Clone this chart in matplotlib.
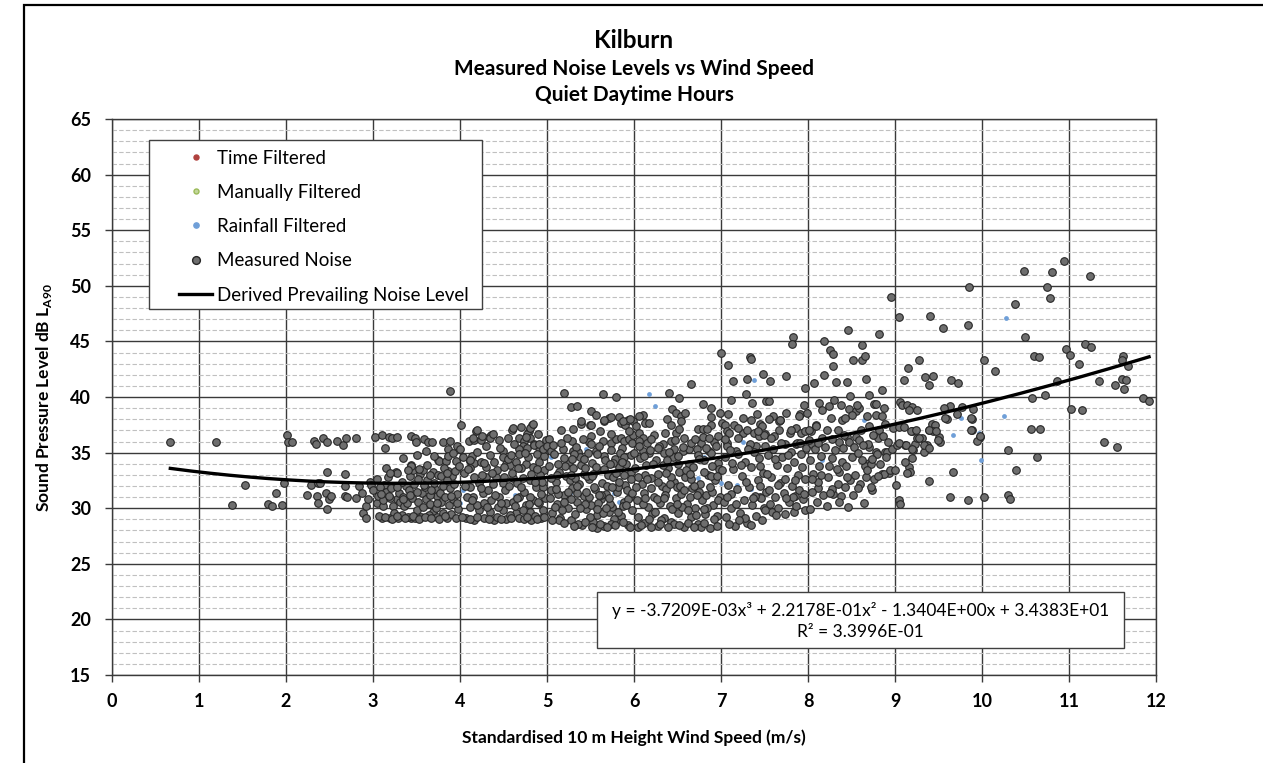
import matplotlib
matplotlib.use('Agg')
import numpy as np
import matplotlib.pyplot as plt
from matplotlib.lines import Line2D
from matplotlib.patches import Rectangle
from matplotlib.ticker import MultipleLocator

plt.rcParams['font.family'] = ['Lato', 'DejaVu Sans']
plt.rcParams['mathtext.fontset'] = 'custom'
plt.rcParams['mathtext.rm'] = 'Lato'
plt.rcParams['mathtext.bf'] = 'Lato:bold'

# Trendline coefficients as printed on the chart (x^3, x^2, x, const)
trend_coeffs = [-3.7209e-03, 2.2178e-01, -1.3404e+00, 3.4383e+01]
r_squared = '3.3996E-01'

# Measured noise, (wind speed m/s, LA90 dB), split by wind speed band
measured_0_3 = [
    (0.67, 36.0), (1.19, 36.0), (1.38, 30.3), (1.53, 32.1), (1.79, 30.4), (1.84, 30.2), (1.88, 31.4),
    (1.95, 30.3), (1.98, 32.3), (2.01, 36.6), (2.02, 36.0), (2.07, 36.0), (2.24, 31.2), (2.29, 32.1),
    (2.32, 36.05), (2.35, 35.8), (2.36, 31.1), (2.37, 32.3), (2.37, 30.5), (2.39, 32.3), (2.42, 36.3),
    (2.46, 31.4), (2.47, 36.0), (2.47, 33.3), (2.47, 29.9), (2.49, 30.8), (2.52, 31.1), (2.59, 36.05),
    (2.66, 35.7), (2.68, 33.05), (2.68, 32.0), (2.68, 31.1), (2.69, 36.3), (2.70, 31.0), (2.81, 36.3),
    (2.81, 30.9), (2.84, 32.0), (2.87, 31.4), (2.89, 29.6), (2.92, 29.1), (2.92, 30.2), (2.94, 30.8),
    (2.96, 32.4), (2.98, 32.1)]

measured_3_4 = [
    (3.0, 31.6), (3.02, 36.4), (3.04, 30.5), (3.06, 31.1), (3.10, 36.6), (3.11, 30.2), (3.10, 29.1),
    (3.14, 35.4), (3.13, 32.1), (3.18, 36.4), (3.22, 36.3), (3.27, 36.4), (3.19, 29.1), (3.29, 29.1),
    (3.25, 32.0), (3.26, 33.3), (3.23, 30.2), (3.27, 30.8), (3.31, 30.6), (3.36, 30.2), (3.38, 32.0),
    (3.42, 32.9), (3.44, 33.9), (3.46, 33.4), (3.44, 36.5), (3.48, 36.3), (3.49, 36.0), (3.44, 29.1),
    (3.48, 29.1), (3.54, 33.1), (3.56, 31.4), (3.57, 33.4), (3.59, 36.2), (3.61, 30.8), (3.63, 36.0),
    (3.61, 35.15), (3.68, 36.0), (3.69, 33.3), (3.69, 29.7), (3.71, 31.7), (3.73, 31.1), (3.75, 34.3),
    (3.75, 33.0), (3.76, 34.25), (3.78, 32.9), (3.80, 36.0), (3.84, 34.25), (3.86, 33.35), (3.86, 35.3),
    (3.86, 34.7), (3.89, 36.05), (3.89, 40.5), (3.91, 32.9), (3.94, 33.35), (3.95, 34.25), (3.97, 35.6),
    (3.27, 33.2), (3.44, 33.8), (3.53, 33.5), (3.05, 32.6), (3.08, 31.9), (3.12, 30.7), (3.15, 31.5),
    (3.17, 32.8), (3.20, 30.9), (3.21, 31.8), (3.24, 29.6), (3.30, 31.4), (3.33, 29.4), (3.33, 32.4),
    (3.35, 31.0), (3.39, 30.5), (3.40, 29.2), (3.41, 31.6), (3.45, 30.9), (3.47, 32.2), (3.50, 29.8),
    (3.52, 30.6), (3.52, 32.6), (3.55, 29.2), (3.58, 30.1), (3.60, 31.9), (3.62, 32.5), (3.64, 29.4),
    (3.65, 31.2), (3.66, 30.4), (3.70, 32.3), (3.72, 30.0), (3.74, 29.2), (3.77, 31.4), (3.78, 30.6),
    (3.80, 29.6), (3.81, 32.0), (3.83, 31.0), (3.85, 29.1), (3.87, 30.3), (3.88, 31.8), (3.90, 29.5),
    (3.92, 30.8), (3.93, 32.2), (3.96, 31.3), (3.98, 29.9), (3.99, 33.8), (3.62, 33.9), (3.35, 34.5),
    (3.15, 33.6), (3.70, 34.7), (3.82, 33.6), (3.50, 34.8), (3.92, 35.0), (3.07, 29.3), (3.14, 29.2),
    (3.22, 29.0), (3.28, 29.3), (3.37, 29.1), (3.46, 29.3), (3.53, 29.0), (3.60, 29.2), (3.67, 29.1),
    (3.76, 29.0), (3.83, 29.3), (3.95, 29.1), (3.09, 31.3), (3.18, 31.1), (3.28, 31.9), (3.34, 30.8),
    (3.43, 31.2), (3.51, 31.5), (3.59, 32.1), (3.67, 31.6), (3.74, 30.5), (3.85, 32.5), (3.90, 31.1),
    (3.97, 30.5), (3.20, 33.2), (3.40, 33.4), (3.66, 33.0), (3.85, 33.2)]

measured_4_5 = [
    (4.0, 35.3), (4.01, 37.5), (4.10, 36.05), (4.16, 36.1), (4.18, 36.95), (4.14, 34.7), (4.12, 34.25),
    (4.16, 34.1), (4.15, 36.35), (4.24, 36.1), (4.33, 36.4), (4.36, 36.6), (4.34, 36.3), (4.60, 37.0),
    (4.83, 37.5), (4.79, 36.95), (4.77, 36.7), (4.68, 36.3), (4.74, 36.05), (4.80, 36.3), (4.72, 35.6),
    (4.77, 35.45), (4.68, 35.3), (4.85, 35.75), (4.91, 35.4), (4.99, 35.15), (4.49, 35.15), (4.20, 37.0),
    (4.38, 36.7), (4.61, 37.2), (4.76, 36.4), (4.80, 37.2), (4.84, 37.6), (4.85, 35.7), (4.91, 35.8),
    (4.99, 36.1), (4.03, 34.6), (4.11, 34.3), (4.24, 34.2), (4.30, 33.75), (4.39, 34.2), (4.49, 34.6),
    (4.53, 34.0), (4.57, 33.9), (4.64, 34.2), (4.68, 34.9), (4.76, 34.0), (4.84, 33.75), (4.91, 34.2),
    (4.97, 33.45), (4.16, 32.85), (4.30, 32.85), (4.41, 32.85), (4.22, 32.25), (4.11, 31.95), (4.49, 32.25),
    (4.61, 32.7), (4.72, 32.7), (4.80, 32.55), (4.87, 31.95), (4.95, 31.95), (4.15, 31.05), (4.26, 31.35),
    (4.36, 30.75), (4.45, 31.05), (4.53, 30.45), (4.61, 30.6), (4.68, 31.05), (4.76, 30.3), (4.84, 30.75),
    (4.91, 30.45), (4.11, 30.15), (4.22, 29.85), (4.34, 29.7), (4.49, 29.85), (4.64, 29.55), (4.80, 29.7),
    (4.95, 29.85), (4.07, 29.1), (4.16, 28.95), (4.28, 29.1), (4.39, 28.95), (4.53, 29.0), (4.68, 29.1),
    (4.82, 28.95), (4.93, 29.1), (4.05, 33.2), (4.08, 31.0), (4.12, 33.6), (4.19, 30.3), (4.20, 35.1),
    (4.25, 33.0), (4.28, 30.5), (4.30, 35.6), (4.32, 31.6), (4.35, 34.8), (4.40, 31.2), (4.42, 33.4),
    (4.44, 30.1), (4.46, 35.4), (4.50, 32.8), (4.52, 31.6), (4.55, 34.4), (4.57, 29.4), (4.60, 33.2),
    (4.62, 35.8), (4.65, 30.9), (4.66, 32.3), (4.70, 33.6), (4.72, 29.8), (4.74, 31.5), (4.78, 34.6),
    (4.80, 31.0), (4.82, 33.1), (4.86, 29.3), (4.88, 34.9), (4.90, 30.6), (4.92, 33.0), (4.94, 32.4),
    (4.96, 34.7), (4.98, 30.9), (4.45, 36.1), (4.55, 36.3), (4.25, 36.5), (4.90, 36.7), (4.70, 37.3),
    (4.02, 29.2), (4.12, 29.0), (4.20, 29.2), (4.33, 29.0), (4.43, 29.2), (4.47, 29.0), (4.59, 29.1),
    (4.73, 29.0), (4.77, 29.2), (4.88, 29.0), (4.97, 29.2), (4.06, 32.0), (4.14, 30.7), (4.24, 31.8),
    (4.31, 30.1), (4.38, 32.2), (4.47, 30.5), (4.56, 32.0), (4.63, 30.2), (4.70, 31.9), (4.79, 30.4),
    (4.86, 32.4), (4.93, 31.3), (4.09, 33.5), (4.27, 34.1), (4.37, 33.2), (4.51, 33.7), (4.59, 34.8),
    (4.67, 33.6), (4.75, 35.0), (4.89, 33.5), (4.95, 35.3)]

measured_5_6 = [
    (5.20, 40.4), (5.64, 40.3), (5.79, 40.0), (5.28, 39.1), (5.35, 39.2), (5.50, 38.7), (5.56, 38.35),
    (5.66, 37.8), (5.71, 38.1), (5.83, 38.2), (5.85, 37.7), (5.90, 37.5), (5.93, 37.9), (5.99, 37.8),
    (5.39, 37.6), (5.49, 37.45), (5.16, 37.0), (5.30, 37.15), (5.39, 37.8), (5.50, 37.5), (5.66, 37.9),
    (5.74, 38.2), (5.87, 37.8), (5.95, 38.0), (5.29, 36.05), (5.30, 35.15), (5.36, 35.1), (5.50, 36.5),
    (5.48, 36.0), (5.56, 35.15), (5.64, 36.05), (5.73, 35.9), (5.79, 36.2), (5.85, 36.3), (5.89, 36.05),
    (5.94, 36.2), (5.98, 35.9), (5.02, 36.2), (5.00, 35.6), (5.04, 35.15),
    (5.02, 33.8), (5.04, 31.6), (5.06, 29.6), (5.08, 34.9), (5.10, 32.4), (5.12, 30.4), (5.14, 33.3),
    (5.15, 29.1), (5.18, 35.3), (5.20, 31.2), (5.22, 32.9), (5.24, 30.0), (5.25, 34.2), (5.27, 28.9),
    (5.29, 31.8), (5.30, 33.6), (5.32, 29.5), (5.33, 35.5), (5.35, 30.6), (5.37, 32.2), (5.38, 34.6),
    (5.40, 28.5), (5.42, 31.1), (5.43, 33.1), (5.45, 29.9), (5.47, 35.0), (5.48, 32.6), (5.50, 30.3),
    (5.52, 34.1), (5.53, 28.8), (5.55, 31.7), (5.57, 33.4), (5.58, 29.4), (5.60, 35.6), (5.62, 30.8),
    (5.63, 32.3), (5.65, 34.7), (5.66, 28.4), (5.68, 31.3), (5.70, 33.0), (5.71, 29.7), (5.73, 35.2),
    (5.75, 30.1), (5.76, 32.8), (5.78, 34.4), (5.80, 28.9), (5.81, 31.5), (5.83, 33.7), (5.85, 29.3),
    (5.86, 35.4), (5.88, 30.6), (5.90, 32.1), (5.91, 34.0), (5.93, 28.5), (5.95, 31.0), (5.96, 33.3),
    (5.98, 29.8), (5.99, 36.6), (5.03, 30.9), (5.07, 35.7), (5.11, 33.0), (5.13, 31.3), (5.17, 29.8),
    (5.19, 34.5), (5.23, 36.3), (5.26, 32.5), (5.28, 30.8), (5.31, 34.9), (5.34, 31.4), (5.36, 28.6),
    (5.39, 33.9), (5.41, 36.2), (5.44, 30.4), (5.46, 32.9), (5.49, 29.2), (5.51, 35.8), (5.54, 31.9),
    (5.56, 33.7), (5.59, 30.5), (5.61, 36.9), (5.64, 29.6), (5.67, 34.3), (5.69, 32.0), (5.72, 30.4),
    (5.74, 36.7), (5.77, 29.0), (5.79, 33.2), (5.82, 31.9), (5.84, 35.0), (5.87, 30.2), (5.89, 34.6),
    (5.92, 31.6), (5.94, 36.9), (5.97, 32.6), (5.05, 32.7), (5.09, 30.1), (5.16, 35.9), (5.21, 33.8),
    (5.24, 31.5), (5.32, 32.7), (5.38, 30.0), (5.42, 34.4), (5.48, 31.0), (5.53, 33.1), (5.57, 29.9),
    (5.62, 31.2), (5.66, 33.5), (5.71, 30.9), (5.76, 34.1), (5.82, 29.7), (5.88, 33.0), (5.93, 30.8),
    (5.97, 34.8), (5.14, 28.9), (5.58, 28.2), (5.73, 28.6), (5.06, 28.9), (5.19, 28.7), (5.31, 28.4),
    (5.44, 28.8), (5.52, 28.3), (5.61, 28.6), (5.69, 28.3), (5.78, 28.5), (5.87, 28.8), (5.95, 28.3),
    (5.10, 31.7), (5.20, 30.6), (5.27, 33.0), (5.35, 32.0), (5.45, 31.5), (5.52, 32.9), (5.60, 31.2),
    (5.68, 30.0), (5.75, 31.9), (5.83, 32.4), (5.91, 30.3), (5.98, 31.4), (5.13, 34.0), (5.29, 34.4),
    (5.44, 33.6), (5.58, 34.9), (5.72, 34.0), (5.86, 34.2)]

measured_6_7 = [
    (6.02, 37.4), (6.06, 36.8), (6.10, 36.35), (6.15, 35.9), (6.10, 38.4), (6.06, 38.3), (6.13, 37.7),
    (6.17, 37.7), (6.40, 40.4), (6.52, 39.9), (6.66, 41.2), (6.79, 39.4), (6.89, 39.0), (6.99, 38.6),
    (6.89, 38.2), (6.44, 38.9), (6.48, 38.6), (6.54, 38.3), (6.59, 38.6), (6.38, 38.0), (6.42, 37.5),
    (6.54, 37.8), (6.88, 37.5), (6.73, 37.1), (6.79, 37.1), (6.84, 37.1), (6.23, 36.6), (6.36, 36.8),
    (6.48, 36.8), (6.52, 37.1), (6.77, 35.9), (6.92, 36.0), (6.06, 36.05), (6.10, 35.15), (6.17, 35.0),
    (6.33, 35.75), (6.42, 36.05), (6.46, 35.3), (6.56, 35.15), (6.63, 35.3), (6.86, 35.15),
    (6.01, 33.6), (6.03, 30.7), (6.05, 29.2), (6.07, 34.5), (6.09, 32.2), (6.11, 28.7), (6.12, 31.4),
    (6.14, 33.9), (6.16, 30.1), (6.18, 35.2), (6.20, 32.7), (6.21, 29.5), (6.23, 31.0), (6.25, 34.3),
    (6.27, 28.4), (6.28, 33.1), (6.30, 30.5), (6.32, 32.0), (6.34, 35.0), (6.35, 29.1), (6.37, 31.7),
    (6.39, 33.6), (6.41, 30.2), (6.43, 28.8), (6.45, 34.6), (6.46, 32.4), (6.48, 30.9), (6.50, 29.6),
    (6.52, 33.3), (6.54, 31.3), (6.56, 35.5), (6.57, 28.3), (6.59, 32.8), (6.61, 30.4), (6.63, 34.0),
    (6.65, 29.2), (6.67, 31.8), (6.68, 33.7), (6.70, 30.0), (6.72, 35.3), (6.74, 28.6), (6.76, 32.2),
    (6.78, 30.7), (6.80, 34.3), (6.82, 29.5), (6.83, 31.2), (6.85, 33.0), (6.87, 28.2), (6.89, 35.0),
    (6.91, 30.3), (6.93, 32.5), (6.95, 29.3), (6.97, 34.1), (6.99, 31.0), (6.02, 31.9), (6.06, 35.6),
    (6.10, 30.4), (6.13, 33.0), (6.17, 29.0), (6.19, 36.2), (6.22, 34.0), (6.26, 30.8), (6.29, 35.6),
    (6.31, 28.9), (6.33, 33.9), (6.36, 31.2), (6.40, 35.1), (6.42, 32.8), (6.44, 29.9), (6.47, 36.1),
    (6.49, 31.9), (6.51, 34.7), (6.55, 30.1), (6.58, 36.3), (6.60, 33.4), (6.62, 29.8), (6.66, 35.9),
    (6.69, 32.0), (6.71, 29.4), (6.73, 34.8), (6.75, 31.5), (6.79, 36.4), (6.81, 33.3), (6.84, 30.0),
    (6.86, 36.3), (6.88, 32.9), (6.90, 31.5), (6.94, 35.6), (6.96, 30.7), (6.98, 33.5), (6.04, 28.3),
    (6.15, 32.6), (6.24, 29.7), (6.38, 34.3), (6.46, 28.6), (6.53, 32.0), (6.64, 31.0), (6.77, 28.3),
    (6.83, 35.4), (6.92, 29.0), (6.97, 36.5), (6.70, 36.2), (6.08, 28.5), (6.19, 28.3), (6.30, 28.6),
    (6.39, 28.3), (6.52, 28.5), (6.62, 28.7), (6.69, 28.3), (6.81, 28.7), (6.95, 28.4), (6.05, 32.8),
    (6.13, 30.9), (6.20, 31.8), (6.27, 32.4), (6.34, 30.9), (6.41, 32.2), (6.49, 30.4), (6.57, 31.6),
    (6.65, 32.6), (6.72, 31.2), (6.80, 29.9), (6.87, 31.9), (6.95, 32.9), (6.00, 35.0), (6.12, 34.7),
    (6.27, 35.4), (6.37, 33.2), (6.50, 34.0), (6.64, 33.1), (6.75, 34.4), (6.90, 33.8)]

measured_7_8 = [
    (7.0, 44.0), (7.33, 43.6), (7.35, 43.4), (7.08, 42.9), (7.48, 42.1), (7.14, 41.4), (7.30, 41.6),
    (7.56, 41.4), (7.75, 41.9), (7.12, 39.7), (7.29, 40.3), (7.36, 39.5), (7.52, 39.6), (7.97, 40.8),
    (7.83, 45.4), (7.82, 44.8), (7.91, 38.5), (7.68, 37.9), (7.45, 37.6), (7.51, 36.7), (7.85, 31.1),
    (7.84, 29.7), (7.59, 29.7), (7.49, 30.0), (7.45, 31.0), (7.01, 37.7), (7.05, 37.5), (7.07, 36.9),
    (7.09, 36.8), (7.08, 38.5), (7.07, 35.9), (7.07, 35.6), (7.17, 35.15), (7.25, 36.8), (7.30, 37.0),
    (7.38, 36.8), (7.44, 36.5), (7.49, 36.6), (7.47, 37.4), (7.61, 36.5), (7.67, 37.0), (7.67, 37.8),
    (7.86, 37.25), (7.92, 36.8), (7.97, 36.95), (7.90, 38.3), (7.99, 38.6), (7.40, 35.6), (7.51, 35.6),
    (7.74, 35.75), (7.86, 35.8), (7.55, 39.6), (7.68, 37.9),
    (7.01, 33.4), (7.03, 30.6), (7.05, 34.6), (7.06, 29.2), (7.08, 32.1), (7.10, 35.2), (7.12, 30.0),
    (7.14, 33.5), (7.16, 28.4), (7.18, 31.7), (7.20, 34.9), (7.22, 29.6), (7.24, 32.9), (7.26, 30.7),
    (7.28, 34.2), (7.30, 28.7), (7.32, 31.9), (7.34, 33.7), (7.36, 30.3), (7.38, 35.1), (7.40, 29.3),
    (7.42, 32.5), (7.44, 34.5), (7.46, 30.9), (7.48, 33.2), (7.50, 29.8), (7.52, 31.5), (7.54, 34.8),
    (7.56, 30.4), (7.58, 32.8), (7.60, 35.3), (7.62, 31.0), (7.64, 33.9), (7.66, 30.0), (7.68, 32.3),
    (7.70, 34.6), (7.72, 31.4), (7.74, 29.5), (7.76, 33.6), (7.78, 30.6), (7.80, 35.1), (7.82, 32.0),
    (7.84, 34.2), (7.86, 30.2), (7.88, 33.0), (7.90, 31.6), (7.92, 34.9), (7.94, 30.8), (7.96, 32.6),
    (7.98, 35.4), (7.04, 36.2), (7.11, 31.3), (7.19, 36.3), (7.23, 33.9), (7.27, 29.1), (7.33, 35.8),
    (7.39, 31.1), (7.43, 36.9), (7.47, 28.9), (7.53, 33.1), (7.57, 36.3), (7.63, 29.4), (7.69, 35.9),
    (7.73, 32.6), (7.79, 36.8), (7.83, 31.0), (7.87, 35.9), (7.93, 33.7), (7.97, 29.8), (7.15, 37.5),
    (7.41, 38.5), (7.60, 38.3), (7.25, 38.1), (7.80, 37.0), (7.09, 28.6), (7.21, 28.9), (7.34, 28.5),
    (7.07, 31.0), (7.17, 30.4), (7.29, 32.4), (7.37, 30.9), (7.45, 32.0), (7.55, 31.6), (7.65, 32.1),
    (7.75, 30.9), (7.85, 32.5), (7.95, 31.3), (7.13, 34.1), (7.31, 35.3), (7.45, 33.8), (7.62, 34.4),
    (7.77, 34.8), (7.91, 35.9), (7.20, 37.2), (7.35, 37.9), (7.55, 38.0), (7.75, 38.6), (7.95, 39.3)]

measured_8_9 = [
    (8.07, 41.25), (8.46, 46.0), (8.82, 45.7), (8.18, 45.0), (8.62, 44.7), (8.25, 44.2), (8.29, 43.9),
    (8.52, 43.3), (8.62, 43.3), (8.65, 43.7), (8.29, 42.75), (8.18, 42.0), (8.32, 41.35), (8.45, 41.35),
    (8.67, 41.6), (8.95, 49.0), (8.13, 39.5), (8.16, 38.85), (8.24, 39.15), (8.38, 39.3), (8.47, 38.9),
    (8.55, 38.7), (8.59, 39.0), (8.68, 38.3), (8.76, 39.4), (8.78, 38.4), (8.85, 38.3), (8.51, 38.4),
    (8.26, 38.1), (8.39, 37.95), (8.43, 38.1), (8.56, 39.25), (8.87, 39.0), (8.03, 36.95), (8.09, 37.5),
    (8.05, 35.75), (8.01, 37.05), (8.09, 37.35), (8.22, 37.05), (8.34, 37.05), (8.45, 36.45),
    (8.55, 36.45), (8.61, 37.05), (8.70, 37.35), (8.82, 37.05), (8.01, 36.15), (8.16, 36.3), (8.36, 36.0),
    (8.47, 36.0), (8.53, 35.55), (8.59, 36.15), (8.70, 35.55), (8.78, 35.1), (8.89, 35.1), (8.13, 33.8),
    (8.24, 33.8), (8.36, 33.3), (8.39, 34.2), (8.70, 34.05), (8.66, 33.8), (8.85, 33.1), (8.93, 33.2),
    (8.87, 33.1), (8.94, 33.4), (8.73, 31.6), (8.46, 30.1), (8.38, 31.1), (8.29, 31.3), (8.12, 31.8),
    (8.02, 29.9), (8.78, 39.4), (8.72, 34.0), (8.79, 34.9), (8.91, 35.1),
    (8.02, 34.3), (8.04, 31.5), (8.06, 33.1), (8.08, 35.3), (8.10, 30.6), (8.12, 32.4), (8.15, 34.7),
    (8.17, 31.2), (8.20, 35.5), (8.22, 30.2), (8.23, 32.8), (8.27, 34.5), (8.28, 31.7), (8.31, 35.2),
    (8.34, 32.2), (8.36, 30.6), (8.40, 35.4), (8.42, 31.9), (8.44, 33.8), (8.48, 32.5), (8.50, 34.6),
    (8.52, 31.2), (8.54, 33.0), (8.57, 35.0), (8.60, 32.2), (8.62, 34.3), (8.64, 30.5), (8.67, 32.8),
    (8.69, 35.8), (8.72, 31.9), (8.74, 34.4), (8.76, 32.6), (8.80, 36.3), (8.83, 34.0), (8.86, 36.5),
    (8.90, 34.6), (8.92, 36.0), (8.96, 35.3), (8.98, 37.2), (8.05, 32.6), (8.15, 33.0), (8.25, 31.4),
    (8.33, 33.5), (8.45, 32.8), (8.58, 31.8), (8.68, 33.4), (8.80, 32.9), (8.11, 35.9), (8.27, 36.2),
    (8.41, 36.6), (8.63, 35.7), (8.75, 36.6), (8.88, 37.6), (8.30, 39.7), (8.48, 40.1), (8.70, 40.2),
    (8.85, 40.6)]

measured_9_12 = [
    (10.94, 52.2), (10.48, 51.3), (10.81, 51.2), (11.24, 50.9), (10.75, 49.85), (10.78, 48.9),
    (9.85, 49.85), (10.38, 48.4), (9.05, 47.2), (9.40, 47.25), (9.55, 46.2), (9.84, 46.5), (10.49, 45.4),
    (9.27, 43.3), (9.15, 42.6), (9.10, 41.55), (9.35, 41.8), (9.44, 41.85), (9.39, 41.1), (9.64, 41.55),
    (9.72, 41.25), (10.02, 43.3), (10.15, 42.3), (10.60, 43.7), (10.66, 43.6), (10.96, 44.3),
    (11.01, 43.8), (11.18, 44.8), (11.25, 44.5), (11.12, 43.0), (11.62, 43.7), (11.61, 43.3),
    (11.68, 42.8), (11.34, 41.4), (11.53, 41.1), (11.61, 41.6), (11.66, 41.55), (11.63, 40.75),
    (10.86, 41.4), (10.72, 40.2), (10.57, 39.9), (11.85, 39.9), (11.92, 39.6), (11.02, 38.9),
    (11.15, 38.8), (10.56, 37.1), (10.67, 37.1), (11.40, 36.0), (11.55, 35.5), (10.63, 34.6),
    (10.30, 35.2), (10.39, 33.4), (9.67, 33.3), (9.39, 32.45), (9.63, 31.0), (9.84, 30.7), (10.02, 31.0),
    (10.30, 31.2), (10.32, 30.8), (9.05, 30.75), (9.06, 30.4), (9.01, 32.1), (9.98, 36.4), (9.94, 36.05),
    (9.88, 37.0), (9.88, 38.05), (9.90, 38.95), (9.77, 39.1), (9.71, 38.5), (9.63, 39.2), (9.56, 39.0),
    (9.60, 38.05), (9.39, 37.0), (9.42, 37.6), (9.46, 37.5), (9.44, 36.9), (9.50, 36.4), (9.52, 36.0),
    (9.31, 36.3), (9.37, 35.7), (9.33, 35.1), (9.21, 35.2), (9.23, 35.8), (9.19, 34.5), (9.16, 33.7),
    (9.17, 33.3), (9.00, 33.4), (9.02, 35.7), (9.12, 35.7), (9.04, 37.3), (9.10, 37.3), (9.19, 36.9),
    (9.25, 36.3), (9.06, 39.55), (9.08, 39.25), (9.14, 39.3), (9.19, 39.1), (9.25, 38.8), (9.16, 38.85),
    (9.58, 38.1), (9.87, 38.1), (9.05, 35.9), (9.13, 35.7), (9.18, 36.9), (9.24, 37.05), (9.28, 36.3),
    (9.39, 37.05), (9.47, 36.9), (9.49, 36.15), (9.33, 35.7), (9.39, 35.4), (9.20, 35.3), (9.12, 34.2),
    (9.14, 33.2), (9.98, 36.5), (9.87, 37.0)]

# Rainfall filtered samples
rainfall_filtered = [
    (4.03, 31.6), (4.0, 30.5), (4.63, 31.2), (5.26, 31.35), (5.77, 31.4), (5.83, 30.6), (5.05, 34.6),
    (5.46, 36.05), (5.45, 35.3), (6.17, 40.3), (6.24, 39.2), (6.73, 32.7), (7.0, 32.3), (7.18, 32.1),
    (7.14, 31.4), (7.25, 36.0), (6.8, 34.6), (7.34, 31.7), (7.38, 41.5), (8.85, 39.0), (8.64, 37.95),
    (9.67, 36.6), (9.76, 38.1), (9.96, 36.8), (9.99, 34.3), (10.25, 38.3), (10.28, 47.1), (7.85, 31.2),
    (8.16, 34.3), (3.55, 29.0)]

# Time filtered and manually filtered series are empty on this chart
time_filtered = []
manually_filtered = []


def split_xy(points):
    # Turns a list of (x, y) pairs into two lists
    return [p[0] for p in points], [p[1] for p in points]


def main():
    measured = measured_0_3 + measured_3_4 + measured_4_5 + measured_5_6 + measured_6_7 + measured_7_8 \
        + measured_8_9 + measured_9_12
    meas_x, meas_y = split_xy(measured)
    rain_x, rain_y = split_xy(rainfall_filtered)

    fig = plt.figure(figsize=(12.63, 7.63), dpi=100)
    ax = fig.add_axes([0.0887, 0.1153, 0.8266, 0.7287])

    # Grid: solid every 5 dB / 1 m/s, dashed every 1 dB
    ax.set_xlim(0, 12)
    ax.set_ylim(15, 65)
    ax.xaxis.set_major_locator(MultipleLocator(1))
    ax.yaxis.set_major_locator(MultipleLocator(5))
    ax.yaxis.set_minor_locator(MultipleLocator(1))
    ax.grid(which='minor', axis='y', color='#c0c0c0', linestyle=(0, (4, 2)), linewidth=0.8)
    ax.grid(which='major', axis='both', color='#3a3a3a', linewidth=1.0)
    ax.set_axisbelow(True)
    for spine in ax.spines.values():
        spine.set_color('#3a3a3a')
        spine.set_linewidth(1.0)
    ax.tick_params(axis='both', which='major', direction='out', length=5, width=1, color='#3a3a3a',
                   labelsize=13)
    ax.tick_params(axis='y', which='minor', length=0)
    ax.tick_params(axis='x', pad=8)
    ax.tick_params(axis='y', pad=10)
    for label in ax.get_xticklabels() + ax.get_yticklabels():
        label.set_fontweight('bold')

    # Data
    ax.scatter(rain_x, rain_y, s=12, color='#6f9fd8', linewidths=0, zorder=3)
    ax.scatter(meas_x, meas_y, s=30, facecolor='#6e6e6e', edgecolor='#262626', linewidths=0.8, zorder=4)

    # Trendline over the measured range
    all_x = meas_x + rain_x
    trend_x = np.linspace(min(all_x), max(all_x), 200)
    ax.plot(trend_x, np.polyval(trend_coeffs, trend_x), color='black', linewidth=2.4, zorder=5)

    # Equation box
    ax.add_patch(Rectangle((5.57, 17.46), 6.06, 5.02, facecolor='white', edgecolor='#404040',
                           linewidth=1.0, zorder=6))
    eq = 'y = -3.7209E-03x³ + 2.2178E-01x² - 1.3404E+00x + 3.4383E+01'
    ax.text(8.6, 20.8, eq, ha='center', va='center', fontsize=12.5, zorder=7)
    ax.text(8.6, 18.85, f'R² = {r_squared}', ha='center', va='center', fontsize=12.5, zorder=7)

    # Legend: box drawn in data units, entries placed inside without their own frame
    ax.add_patch(Rectangle((0.42, 47.9), 3.83, 15.2, facecolor='white', edgecolor='#404040',
                           linewidth=1.0, zorder=6))
    handles = [
        Line2D([], [], linestyle='none', marker='o', markersize=3.6, color='#b0413e'),
        Line2D([], [], linestyle='none', marker='o', markersize=3.6, markerfacecolor='#c3d69b',
               markeredgecolor='#9bbb59'),
        Line2D([], [], linestyle='none', marker='o', markersize=3.8, color='#6f9fd8'),
        Line2D([], [], linestyle='none', marker='o', markersize=5.6, markerfacecolor='#6e6e6e',
               markeredgecolor='#262626'),
        Line2D([], [], color='black', linewidth=2.4)]
    labels = ['Time Filtered', 'Manually Filtered', 'Rainfall Filtered', 'Measured Noise',
              'Derived Prevailing Noise Level']
    leg = ax.legend(handles, labels, loc='upper left', bbox_to_anchor=(0.664, 63.1),
                    bbox_transform=ax.transData, borderaxespad=0, fontsize=13.5, frameon=False,
                    handlelength=1.76, handletextpad=0.27, labelspacing=0.92, borderpad=0.5)
    leg.set_zorder(8)

    # Labels
    ax.set_xlabel('Standardised 10 m Height Wind Speed (m/s)', fontsize=12.5, fontweight='bold', labelpad=14)
    ax.set_ylabel('Sound Pressure Level dB L$_{\\mathbf{A90}}$', fontsize=12.5, fontweight='bold', labelpad=12)

    fig.text(0.502, 0.947, 'Kilburn', ha='center', va='center', fontsize=17.5, fontweight='bold')
    fig.text(0.502, 0.910, 'Measured Noise Levels vs Wind Speed', ha='center', va='center', fontsize=15,
             fontweight='bold')
    fig.text(0.502, 0.876, 'Quiet Daytime Hours', ha='center', va='center', fontsize=15, fontweight='bold')

    # Outer chart frame (only left and top edges fall inside the picture)
    fig.add_artist(Rectangle((0.019, -0.2), 1.2, 1.1934, transform=fig.transFigure, fill=False,
                             edgecolor='black', linewidth=1.6))

    fig.savefig('out.png', dpi=100)


if __name__ == '__main__':
    main()
